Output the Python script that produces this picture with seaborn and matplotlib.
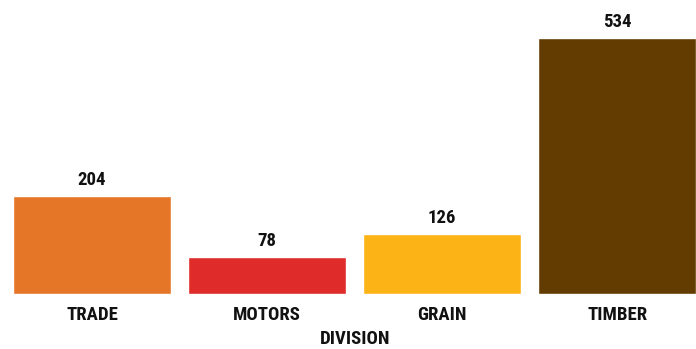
import matplotlib
matplotlib.use("Agg")
import matplotlib.pyplot as plt
import seaborn as sns
import pandas as pd

divisions = ["TRADE", "MOTORS", "GRAIN", "TIMBER"]
values = [204, 78, 126, 534]
colors = ["#E57527", "#E02B2B", "#FCB316", "#623C00"]

sns.set_style("white")
plt.rcParams["font.family"] = ["Roboto Condensed", "Liberation Sans Narrow", "DejaVu Sans"]

df = pd.DataFrame({"division": divisions, "value": values})

W, H = 696, 349
fig = plt.figure(figsize=(W / 100, H / 100), dpi=100)
base = 294
ax = fig.add_axes([4.5 / W, (H - base) / H, (W - 4.5) / W, base / H])

sns.barplot(data=df, x="division", y="value", hue="division",
            palette=dict(zip(divisions, colors)), order=divisions,
            width=0.9, saturation=1, legend=False, ax=ax)

ax.set_xlim(-0.5, 3.45)
ax.set_ylim(0, 534 * base / 256)

for i, v in enumerate(values):
    ax.annotate(f"{v}", (i, v), xytext=(0, 5), textcoords="offset points",
                ha="center", va="bottom", fontsize=13.5, fontweight="bold",
                color="#111111")

ax.set_yticks([])
ax.set_ylabel("")
ax.tick_params(axis="x", length=0, pad=9)
for lbl in ax.get_xticklabels():
    lbl.set_fontsize(13.5)
    lbl.set_fontweight("bold")
    lbl.set_color("#111111")
ax.set_xlabel("DIVISION", fontsize=13.5, fontweight="bold", color="#111111",
              labelpad=4, x=0.507)
sns.despine(ax=ax, left=True, bottom=True)

fig.savefig("out.png", dpi=100)
